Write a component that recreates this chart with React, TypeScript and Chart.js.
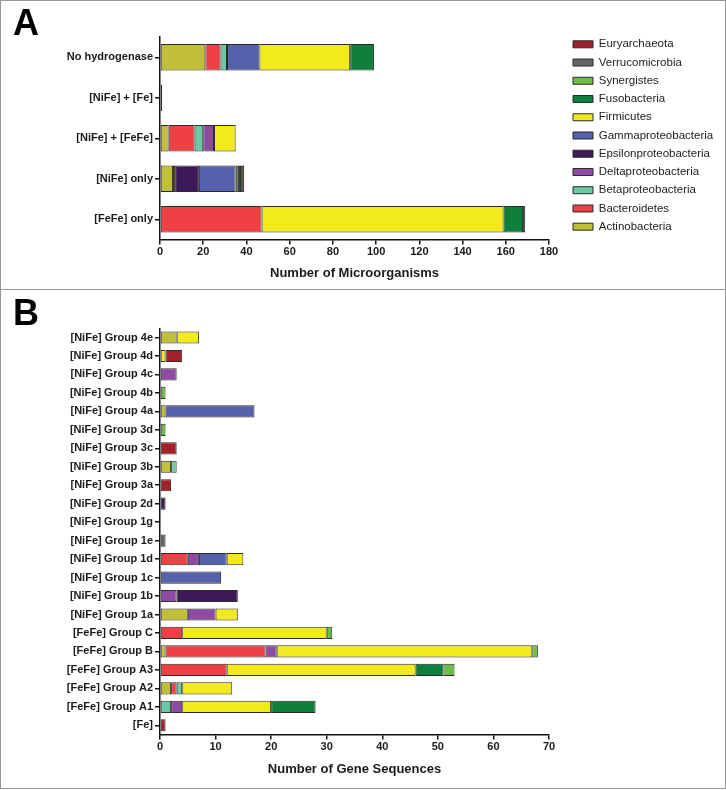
import React, { useEffect, useRef } from "react";
import { Chart, registerables } from "chart.js";

Chart.register(...registerables);

const FONT = '"Liberation Sans", Arial, Helvetica, sans-serif';

// Phyla in stacking order (legend shows them reversed)
const PHYLA = [
  "Actinobacteria",
  "Bacteroidetes",
  "Betaproteobacteria",
  "Deltaproteobacteria",
  "Epsilonproteobacteria",
  "Gammaproteobacteria",
  "Firmicutes",
  "Fusobacteria",
  "Synergistes",
  "Verrucomicrobia",
  "Euryarchaeota",
];
const COLORS = [
  "#C0BF37",
  "#EF4045",
  "#6CC9A1",
  "#8F4BA3",
  "#3D1A57",
  "#5561AB",
  "#F3EA1C",
  "#0F7F3C",
  "#6CBF46",
  "#666666",
  "#A3212A",
];

// ---------- Panel A ----------
const A_CATEGORIES = ["No hydrogenase", "[NiFe] + [Fe]", "[NiFe] + [FeFe]", "[NiFe] only", "[FeFe] only"];
const A_ACTINOBACTERIA = [21, 0, 4, 6, 0];
const A_BACTEROIDETES = [7, 0, 12, 1, 47];
const A_BETAPROTEOBACTERIA = [3, 0, 4, 0, 0];
const A_DELTAPROTEOBACTERIA = [0, 0, 5, 0, 0];
const A_EPSILONPROTEOBACTERIA = [0, 0, 0, 11, 0];
const A_GAMMAPROTEOBACTERIA = [15, 0, 0, 17, 0];
const A_FIRMICUTES = [42, 0, 10, 1, 112];
const A_FUSOBACTERIA = [11, 0, 0, 1, 9];
const A_SYNERGISTES = [0, 0, 0, 1, 1];
const A_VERRUCOMICROBIA = [0, 0, 0, 0, 0];
const A_EURYARCHAEOTA = [0, 1, 0, 1, 0];
const A_X_MAX = 180;
const A_X_STEP = 20;
const A_X_TITLE = "Number of Microorganisms";

// ---------- Panel B ----------
const B_CATEGORIES = [
  "[NiFe] Group 4e",
  "[NiFe] Group 4d",
  "[NiFe] Group 4c",
  "[NiFe] Group 4b",
  "[NiFe] Group 4a",
  "[NiFe] Group 3d",
  "[NiFe] Group 3c",
  "[NiFe] Group 3b",
  "[NiFe] Group 3a",
  "[NiFe] Group 2d",
  "[NiFe] Group 1g",
  "[NiFe] Group 1e",
  "[NiFe] Group 1d",
  "[NiFe] Group 1c",
  "[NiFe] Group 1b",
  "[NiFe] Group 1a",
  "[FeFe] Group C",
  "[FeFe] Group B",
  "[FeFe] Group A3",
  "[FeFe] Group A2",
  "[FeFe] Group A1",
  "[Fe]",
];
const B_ACTINOBACTERIA = [3, 0, 0, 0, 1, 0, 0, 2, 0, 0, 0, 0, 0, 0, 0, 5, 0, 1, 0, 2, 0, 0];
const B_BACTEROIDETES = [0, 0, 0, 0, 0, 0, 0, 0, 0, 0, 0, 0, 5, 0, 0, 0, 4, 18, 12, 1, 0, 0];
const B_BETAPROTEOBACTERIA = [0, 0, 0, 0, 0, 0, 0, 1, 0, 0, 0, 0, 0, 0, 0, 0, 0, 0, 0, 1, 2, 0];
const B_DELTAPROTEOBACTERIA = [0, 0, 3, 0, 0, 0, 0, 0, 0, 0, 0, 0, 2, 0, 3, 5, 0, 2, 0, 0, 2, 0];
const B_EPSILONPROTEOBACTERIA = [0, 0, 0, 0, 0, 0, 0, 0, 0, 1, 0, 0, 0, 0, 11, 0, 0, 0, 0, 0, 0, 0];
const B_GAMMAPROTEOBACTERIA = [0, 0, 0, 0, 16, 0, 0, 0, 0, 0, 0, 0, 5, 11, 0, 0, 0, 0, 0, 0, 0, 0];
const B_FIRMICUTES = [4, 1, 0, 0, 0, 0, 0, 0, 0, 0, 0, 0, 3, 0, 0, 4, 26, 46, 34, 9, 16, 0];
const B_FUSOBACTERIA = [0, 0, 0, 0, 0, 0, 0, 0, 0, 0, 0, 0, 0, 0, 0, 0, 0, 0, 5, 0, 8, 0];
const B_SYNERGISTES = [0, 0, 0, 1, 0, 1, 0, 0, 0, 0, 0, 0, 0, 0, 0, 0, 1, 1, 2, 0, 0, 0];
const B_VERRUCOMICROBIA = [0, 0, 0, 0, 0, 0, 0, 0, 0, 0, 0, 1, 0, 0, 0, 0, 0, 0, 0, 0, 0, 0];
const B_EURYARCHAEOTA = [0, 3, 0, 0, 0, 0, 3, 0, 2, 0, 0, 0, 0, 0, 0, 0, 0, 0, 0, 0, 0, 1];
const B_X_MAX = 70;
const B_X_STEP = 10;
const B_X_TITLE = "Number of Gene Sequences";

const A_SERIES = [
  A_ACTINOBACTERIA,
  A_BACTEROIDETES,
  A_BETAPROTEOBACTERIA,
  A_DELTAPROTEOBACTERIA,
  A_EPSILONPROTEOBACTERIA,
  A_GAMMAPROTEOBACTERIA,
  A_FIRMICUTES,
  A_FUSOBACTERIA,
  A_SYNERGISTES,
  A_VERRUCOMICROBIA,
  A_EURYARCHAEOTA,
];
const B_SERIES = [
  B_ACTINOBACTERIA,
  B_BACTEROIDETES,
  B_BETAPROTEOBACTERIA,
  B_DELTAPROTEOBACTERIA,
  B_EPSILONPROTEOBACTERIA,
  B_GAMMAPROTEOBACTERIA,
  B_FIRMICUTES,
  B_FUSOBACTERIA,
  B_SYNERGISTES,
  B_VERRUCOMICROBIA,
  B_EURYARCHAEOTA,
];

const AXIS_COLOR = "#111111";
const BAR_BORDER = "#2b2b2b";

function makeDatasets(series: number[][]) {
  return PHYLA.map((name, i) => ({
    label: name,
    data: series[i],
    backgroundColor: COLORS[i],
    borderColor: BAR_BORDER,
    borderWidth: 1,
    borderSkipped: false as const,
    barPercentage: 0.66,
    categoryPercentage: 1,
    xAxisID: "x",
    yAxisID: "y",
  }));
}

function makeScales(opts: {
  xMax: number;
  xStep: number;
  xTitle: string;
  xHeight: number;
  titleBottom: number;
  yWidth: number;
  topGap?: number;
  rightGap?: number;
}) {
  const tickFont = { family: FONT, size: 11, weight: "bold" as const };
  const scales: any = {
    x: {
      type: "linear",
      position: "bottom",
      stacked: true,
      min: 0,
      max: opts.xMax,
      ticks: { stepSize: opts.xStep, font: tickFont, color: "#1a1a1a", padding: 1, maxRotation: 0 },
      grid: {
        display: true,
        drawOnChartArea: false,
        drawTicks: true,
        tickLength: 5,
        color: AXIS_COLOR,
        tickColor: AXIS_COLOR,
        tickWidth: 1.5,
        lineWidth: 1.5,
      },
      border: { display: true, color: AXIS_COLOR, width: 1.5 },
      title: {
        display: true,
        text: opts.xTitle,
        font: { family: FONT, size: 13, weight: "bold" },
        color: "#1a1a1a",
        padding: { top: 4, bottom: opts.titleBottom },
      },
      afterFit: (s: any) => {
        s.height = opts.xHeight;
      },
    },
    y: {
      type: "category",
      position: "left",
      stacked: true,
      ticks: { font: tickFont, color: "#1a1a1a", padding: 2, autoSkip: false },
      grid: {
        display: true,
        offset: false,
        drawOnChartArea: false,
        drawTicks: true,
        tickLength: 5,
        color: AXIS_COLOR,
        tickColor: AXIS_COLOR,
        tickWidth: 1.5,
        lineWidth: 1.5,
      },
      border: { display: true, color: AXIS_COLOR, width: 1.5 },
      afterFit: (s: any) => {
        s.width = opts.yWidth;
      },
    },
  };
  if (opts.topGap !== undefined) {
    scales.x2 = {
      type: "linear",
      position: "top",
      display: true,
      grid: { display: false },
      ticks: { display: false },
      border: { display: false },
      afterFit: (s: any) => {
        s.height = opts.topGap;
      },
    };
  }
  if (opts.rightGap !== undefined) {
    scales.y2 = {
      type: "linear",
      position: "right",
      display: true,
      grid: { display: false },
      ticks: { display: false },
      border: { display: false },
      afterFit: (s: any) => {
        s.width = opts.rightGap;
      },
    };
  }
  return scales;
}

export default function App() {
  const refA = useRef<HTMLCanvasElement>(null);
  const refB = useRef<HTMLCanvasElement>(null);

  useEffect(() => {
    const chartA = new Chart(refA.current as HTMLCanvasElement, {
      type: "bar",
      data: { labels: A_CATEGORIES, datasets: makeDatasets(A_SERIES) as any },
      options: {
        indexAxis: "y",
        responsive: false,
        maintainAspectRatio: false,
        animation: false,
        layout: { padding: { top: -19, left: 0, right: 9.74, bottom: 0 } },
        plugins: {
          legend: {
            display: true,
            position: "right",
            reverse: true,
            maxWidth: 150,
            labels: {
              boxWidth: 20,
              boxHeight: 7,
              padding: 6.74,
              color: "#222222",
              font: { family: FONT, size: 11.5 },
            },
          },
          tooltip: { enabled: false },
        },
        scales: makeScales({
          xMax: A_X_MAX,
          xStep: A_X_STEP,
          xTitle: A_X_TITLE,
          xHeight: 50.5,
          titleBottom: 9.2,
          yWidth: 160,
          topGap: 56,
          rightGap: 17.26,
        }),
      } as any,
    });

    const chartB = new Chart(refB.current as HTMLCanvasElement, {
      type: "bar",
      data: { labels: B_CATEGORIES, datasets: makeDatasets(B_SERIES) as any },
      options: {
        indexAxis: "y",
        responsive: false,
        maintainAspectRatio: false,
        animation: false,
        layout: { padding: { top: 38.3, left: 0, right: 177, bottom: 0 } },
        plugins: {
          legend: { display: false },
          tooltip: { enabled: false },
        },
        scales: makeScales({
          xMax: B_X_MAX,
          xStep: B_X_STEP,
          xTitle: B_X_TITLE,
          xHeight: 55.5,
          titleBottom: 13.2,
          yWidth: 160,
        }),
      } as any,
    });

    return () => {
      chartA.destroy();
      chartB.destroy();
    };
  }, []);

  const letterStyle: React.CSSProperties = {
    position: "absolute",
    fontFamily: FONT,
    fontWeight: "bold",
    fontSize: 36,
    lineHeight: "36px",
    color: "#000",
  };

  return (
    <div style={{ position: "absolute", left: 0, top: 0, width: 726, height: 790, background: "#fff" }}>
      <div
        style={{
          position: "absolute",
          left: 0,
          top: 0,
          width: 726,
          height: 290,
          border: "1px solid #969696",
          boxSizing: "border-box",
        }}
      />
      <div
        style={{
          position: "absolute",
          left: 0,
          top: 289,
          width: 726,
          height: 500,
          border: "1px solid #969696",
          boxSizing: "border-box",
        }}
      />
      <canvas ref={refA} width={726} height={290} style={{ position: "absolute", left: 0, top: 0 }} />
      <canvas ref={refB} width={726} height={500} style={{ position: "absolute", left: 0, top: 290 }} />
      <div style={{ ...letterStyle, left: 13, top: 5 }}>A</div>
      <div style={{ ...letterStyle, left: 13, top: 295 }}>B</div>
    </div>
  );
}
